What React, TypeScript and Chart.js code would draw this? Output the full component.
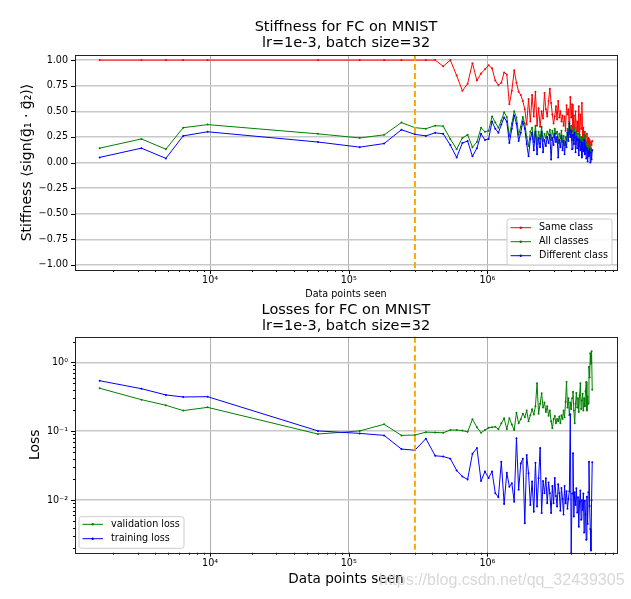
import React, { useEffect, useRef } from 'react';
import { Chart, registerables } from 'chart.js';

Chart.register(...registerables);

const FONT = "'DejaVu Sans', sans-serif";

// x values: number of data points seen
const DATA_POINTS_SEEN = [
  1600, 3200, 4800, 6400, 9600,
  60000, 120000, 180000, 240000, 300000, 360000, 420000, 480000, 540000, 600000,
  660000, 720000, 780000, 840000, 900000, 960000, 1020000, 1080000, 1140000, 1200000,
  1260000, 1320000, 1380000, 1440000, 1500000, 1560000, 1620000, 1680000, 1740000, 1800000,
  1860000, 1920000, 1980000, 2040000, 2100000, 2160000, 2220000, 2280000, 2340000, 2400000,
  2460000, 2520000, 2580000, 2640000, 2700000, 2760000, 2820000, 2880000, 2940000, 3000000,
  3060000, 3120000, 3180000, 3240000, 3300000, 3360000, 3420000, 3480000, 3540000, 3600000,
  3660000, 3720000, 3780000, 3840000, 3900000, 3960000, 4020000, 4080000, 4140000, 4200000,
  4260000, 4320000, 4380000, 4440000, 4500000, 4560000, 4620000, 4680000, 4740000, 4800000,
  4860000, 4920000, 4980000, 5040000, 5100000, 5160000, 5220000, 5280000, 5340000, 5400000,
  5460000, 5520000, 5580000, 5640000, 5700000,
];

const SAME_CLASS = [
  1, 1, 1, 1, 1,
  1, 1, 1, 1, 1, 1, 1, 0.94, 1, 0.85,
  0.70, 0.77, 0.97, 0.80, 0.87, 0.91, 0.95, 0.92, 0.80, 0.755,
  0.78, 0.88, 0.86, 0.57, 0.70, 0.90, 0.78, 0.69, 0.66, 0.60,
  0.52, 0.37, 0.62, 0.40, 0.66, 0.45, 0.69, 0.36, 0.53, 0.35,
  0.50, 0.43, 0.68, 0.52, 0.45, 0.60, 0.72, 0.58, 0.47, 0.38,
  0.45, 0.55, 0.42, 0.60, 0.44, 0.50, 0.40, 0.46, 0.36, 0.45,
  0.31, 0.56, 0.47, 0.52, 0.28, 0.64, 0.44, 0.57, 0.30, 0.46,
  0.27, 0.50, 0.25, 0.40, 0.30, 0.55, 0.22, 0.47, 0.33, 0.58,
  0.23, 0.34, 0.19, 0.30, 0.26, 0.15, 0.28, 0.20, 0.24, 0.12,
  0.22, 0.14, 0.20, 0.17, 0.21,
];

const ALL_CLASSES = [
  0.14, 0.23, 0.13, 0.34, 0.37,
  0.28, 0.24, 0.27, 0.39, 0.34, 0.33, 0.36, 0.355, 0.23, 0.13,
  0.24, 0.27, 0.15, 0.20, 0.34, 0.30, 0.31, 0.45, 0.39, 0.34,
  0.41, 0.49, 0.445, 0.26, 0.38, 0.50, 0.44, 0.27, 0.35, 0.445,
  0.38, 0.25, 0.16, 0.30, 0.34, 0.20, 0.36, 0.18, 0.30, 0.23,
  0.35, 0.21, 0.28, 0.24, 0.30, 0.27, 0.32, 0.22, 0.31, 0.25,
  0.33, 0.28, 0.30, 0.19, 0.28, 0.24, 0.31, 0.20, 0.26, 0.17,
  0.25, 0.22, 0.33, 0.27, 0.40, 0.30, 0.36, 0.22, 0.31, 0.25,
  0.34, 0.18, 0.30, 0.22, 0.28, 0.16, 0.27, 0.20, 0.25, 0.13,
  0.24, 0.18, 0.27, 0.16, 0.21, 0.12, 0.19, 0.10, 0.16, 0.12,
  0.18, 0.09, 0.14, 0.12, 0.12,
];

const DIFFERENT_CLASS = [
  0.05, 0.14, 0.04, 0.26, 0.30,
  0.20, 0.15, 0.185, 0.32, 0.275, 0.26, 0.29, 0.28, 0.17, 0.05,
  0.19, 0.21, 0.06, 0.14, 0.28, 0.22, 0.23, 0.40, 0.33, 0.29,
  0.37, 0.44, 0.40, 0.19, 0.33, 0.46, 0.38, 0.21, 0.29, 0.40,
  0.33, 0.18, 0.06, 0.23, 0.29, 0.12, 0.30, 0.08, 0.24, 0.15,
  0.30, 0.10, 0.22, 0.16, 0.25, 0.19, 0.27, 0.03, 0.24, 0.17,
  0.28, 0.20, 0.25, 0.05, 0.22, 0.15, 0.26, 0.12, 0.21, 0.08,
  0.20, 0.15, 0.29, 0.21, 0.38, 0.25, 0.31, 0.13, 0.27, 0.18,
  0.29, 0.10, 0.25, 0.14, 0.23, 0.07, 0.22, 0.12, 0.20, 0.05,
  0.19, 0.11, 0.22, 0.08, 0.16, 0.04, 0.14, 0.01, 0.11, 0.06,
  0.13, 0.00, 0.10, 0.03, 0.12,
];

const VALIDATION_LOSS = [
  0.42, 0.287, 0.238, 0.199, 0.222,
  0.091, 0.101, 0.126, 0.087, 0.088, 0.097, 0.096, 0.095, 0.104, 0.104,
  0.102, 0.098, 0.149, 0.114, 0.095, 0.104, 0.112, 0.114, 0.116, 0.107,
  0.13, 0.154, 0.107, 0.154, 0.125, 0.104, 0.186, 0.13, 0.149, 0.18,
  0.16, 0.199, 0.14, 0.17, 0.208, 0.175, 0.23, 0.496, 0.18, 0.25,
  0.355, 0.22, 0.26, 0.19, 0.23, 0.168, 0.20, 0.14, 0.11, 0.15,
  0.166, 0.13, 0.15, 0.14, 0.163, 0.13, 0.17, 0.15, 0.20, 0.16,
  0.268, 0.52, 0.22, 0.30, 0.17, 0.26, 0.21, 0.30, 0.375, 0.20,
  0.13, 0.25, 0.36, 0.22, 0.30, 0.19, 0.33, 0.496, 0.21, 0.28,
  0.35, 0.20, 0.30, 0.23, 0.38, 0.52, 0.20, 0.32, 0.25, 0.86,
  0.60, 1.35, 0.95, 1.45, 0.40,
];

const TRAINING_LOSS = [
  0.54, 0.414, 0.336, 0.314, 0.317,
  0.101, 0.093, 0.087, 0.055, 0.053, 0.078, 0.044, 0.043, 0.040, 0.027,
  0.022, 0.020, 0.047, 0.057, 0.019, 0.026, 0.021, 0.026, 0.0126, 0.011,
  0.036, 0.0088, 0.025, 0.0157, 0.0176, 0.0095, 0.079, 0.0141, 0.034, 0.040,
  0.0046, 0.045, 0.0245, 0.0085, 0.0186, 0.0068, 0.035, 0.0081, 0.0208, 0.057,
  0.0065, 0.019, 0.0126, 0.0208, 0.009, 0.018, 0.0126, 0.0065, 0.016, 0.009,
  0.021, 0.0115, 0.0081, 0.017, 0.0126, 0.007, 0.015, 0.0105, 0.0062, 0.016,
  0.009, 0.0135, 0.0075, 0.0105, 0.0135, 0.176, 0.00173, 0.0125, 0.048, 0.0058,
  0.013, 0.0085, 0.0149, 0.0066, 0.011, 0.0041, 0.0095, 0.0138, 0.0052, 0.010,
  0.0072, 0.0125, 0.0034, 0.0098, 0.0062, 0.00265, 0.0112, 0.0045, 0.013, 0.036,
  0.0082, 0.0038, 0.00185, 0.010, 0.0355,
];

const MARKER_X = 300000;

const X_MAJOR_TICKS = [1e4, 1e5, 1e6];
const X_MAJOR_LABELS = ['10\u2074', '10\u2075', '10\u2076'];
const STIFF_TICKS = [-1, -0.75, -0.5, -0.25, 0, 0.25, 0.5, 0.75, 1];
const LOSS_MAJOR_TICKS = [0.01, 0.1, 1];
const LOSS_MAJOR_LABELS = ['10\u207B\u00B2', '10\u207B\u00B9', '10\u2070'];

const X_MIN = 1062;
const X_MAX = 8.6e6;
const STIFF_MIN = -1.05;
const STIFF_MAX = 1.05;
const LOSS_MIN = 0.001726;
const LOSS_MAX = 2.353;

const RED = '#ff0000';
const GREEN = '#008000';
const BLUE = '#0000ff';

function buildLogTicks(min: number, max: number) {
  const out: { value: number; major: boolean }[] = [];
  const e0 = Math.floor(Math.log10(min));
  const e1 = Math.ceil(Math.log10(max));
  for (let e = e0; e <= e1; e++) {
    for (let m = 1; m <= 9; m++) {
      const v = parseFloat((m * Math.pow(10, e)).toPrecision(12));
      if (v >= min && v <= max) out.push({ value: v, major: m === 1 });
    }
  }
  return out;
}

function majorLabel(v: number, ticks: number[], labels: string[]) {
  for (let i = 0; i < ticks.length; i++) {
    if (Math.abs(ticks[i] - v) <= ticks[i] * 1e-9) return labels[i];
  }
  return '';
}

interface LegendCfg {
  corner: 'lr' | 'll';
  w: number;
  h: number;
  insetX: number;
  insetY: number;
  first: number;
  rowH: number;
}

function makeDecor(id: string, legend: LegendCfg, watermark?: string) {
  return {
    id,
    afterDatasetsDraw(chart: any) {
      const { ctx, chartArea: a, scales } = chart;
      const xs = scales.x;
      const ys = scales.y;
      ctx.save();
      // vertical dashed marker
      const px = xs.getPixelForValue(MARKER_X);
      ctx.strokeStyle = '#ffa500';
      ctx.lineWidth = 2;
      ctx.setLineDash([6, 3]);
      ctx.beginPath();
      ctx.moveTo(px, a.top);
      ctx.lineTo(px, a.bottom);
      ctx.stroke();
      ctx.setLineDash([]);
      // ticks
      ctx.strokeStyle = '#000';
      ctx.lineWidth = 1;
      ctx.beginPath();
      for (const t of xs.ticks) {
        const p = Math.round(xs.getPixelForValue(t.value)) + 0.5;
        const len = t.major ? 4 : 2;
        ctx.moveTo(p, a.bottom);
        ctx.lineTo(p, a.bottom + len);
      }
      for (const t of ys.ticks) {
        const p = Math.round(ys.getPixelForValue(t.value)) + 0.5;
        const len = t.major === false ? 2 : 4;
        ctx.moveTo(a.left, p);
        ctx.lineTo(a.left - len, p);
      }
      ctx.stroke();
      // frame
      ctx.strokeStyle = '#222';
      ctx.strokeRect(Math.round(a.left) + 0.5, Math.round(a.top) + 0.5, Math.round(a.right - a.left), Math.round(a.bottom - a.top));
      // legend
      const L = legend;
      const left = L.corner === 'lr' ? a.right - L.insetX - L.w : a.left + L.insetX;
      const top = a.bottom - L.insetY - L.h;
      const r = 2.5;
      ctx.beginPath();
      ctx.moveTo(left + r, top);
      ctx.lineTo(left + L.w - r, top);
      ctx.quadraticCurveTo(left + L.w, top, left + L.w, top + r);
      ctx.lineTo(left + L.w, top + L.h - r);
      ctx.quadraticCurveTo(left + L.w, top + L.h, left + L.w - r, top + L.h);
      ctx.lineTo(left + r, top + L.h);
      ctx.quadraticCurveTo(left, top + L.h, left, top + L.h - r);
      ctx.lineTo(left, top + r);
      ctx.quadraticCurveTo(left, top, left + r, top);
      ctx.closePath();
      ctx.fillStyle = 'rgba(255,255,255,0.85)';
      ctx.fill();
      ctx.strokeStyle = '#cccccc';
      ctx.lineWidth = 1;
      ctx.stroke();
      chart.data.datasets.forEach((ds: any, i: number) => {
        const y = top + L.first + i * L.rowH;
        ctx.strokeStyle = ds.borderColor;
        ctx.lineWidth = 1;
        ctx.beginPath();
        ctx.moveTo(left + 3.5, y);
        ctx.lineTo(left + 24, y);
        ctx.stroke();
        ctx.fillStyle = ds.borderColor;
        ctx.beginPath();
        ctx.arc(left + 13.75, y, 1.2, 0, Math.PI * 2);
        ctx.fill();
        ctx.fillStyle = '#000';
        ctx.font = `9.6px ${FONT}`;
        ctx.textBaseline = 'middle';
        ctx.textAlign = 'left';
        ctx.fillText(ds.label, left + 32, y);
      });
      ctx.restore();
    },
    afterDraw(chart: any) {
      if (!watermark) return;
      const { ctx } = chart;
      ctx.save();
      ctx.font = "16px 'Liberation Sans', sans-serif";
      ctx.fillStyle = 'rgba(212,212,212,0.9)';
      ctx.textBaseline = 'middle';
      ctx.textAlign = 'left';
      ctx.fillText(watermark, 379, 280.7);
      ctx.restore();
    },
  };
}

function xScale(titleText: string, titleSize: number, titlePadBottom: number, height: number) {
  return {
    type: 'logarithmic',
    min: X_MIN,
    max: X_MAX,
    afterBuildTicks: (s: any) => {
      s.ticks = buildLogTicks(X_MIN, X_MAX);
    },
    afterFit: (s: any) => {
      s.height = height;
      s.paddingLeft = 0;
      s.paddingRight = 0;
    },
    ticks: {
      autoSkip: false,
      maxRotation: 0,
      minRotation: 0,
      padding: 5,
      color: '#000',
      font: { family: FONT, size: 9.6 },
      callback: (v: number) => majorLabel(v, X_MAJOR_TICKS, X_MAJOR_LABELS),
    },
    grid: {
      drawTicks: false,
      color: (c: any) => (c.tick && c.tick.major ? '#b0b0b0' : 'rgba(0,0,0,0)'),
      lineWidth: 1,
    },
    border: { display: false },
    title: {
      display: true,
      text: titleText,
      color: '#000',
      font: { family: FONT, size: titleSize },
      padding: { top: 0, bottom: titlePadBottom },
    },
  };
}

function dataset(label: string, values: number[], color: string, order: number) {
  return {
    label,
    data: DATA_POINTS_SEEN.map((x, i) => ({ x, y: values[i] })),
    borderColor: color,
    backgroundColor: color,
    borderWidth: 1,
    pointRadius: 1,
    pointBorderWidth: 0,
    pointHoverRadius: 0,
    tension: 0,
    order,
  };
}

export default function App() {
  const topRef = useRef<HTMLCanvasElement>(null);
  const botRef = useRef<HTMLCanvasElement>(null);

  useEffect(() => {
    if (!topRef.current || !botRef.current) return;
    const top = new Chart(topRef.current, {
      type: 'line',
      data: {
        datasets: [
          dataset('Same class', SAME_CLASS, RED, 2),
          dataset('All classes', ALL_CLASSES, GREEN, 1),
          dataset('Different class', DIFFERENT_CLASS, BLUE, 0),
        ],
      },
      options: {
        responsive: false,
        animation: false,
        devicePixelRatio: 1,
        events: [],
        layout: { padding: { left: 0, right: 14, top: 0, bottom: 0 } },
        plugins: {
          legend: { display: false },
          tooltip: { enabled: false },
          title: {
            display: true,
            fullSize: false,
            text: ['Stiffness for FC on MNIST', 'lr=1e-3, batch size=32'],
            color: '#000',
            font: { family: FONT, size: 14.5, weight: 'normal', lineHeight: 1.1 },
            padding: { top: 19.3, bottom: 3.8 },
          },
        },
        scales: {
          x: xScale('Data points seen', 9.6, 0, 30) as any,
          y: {
            type: 'linear',
            min: STIFF_MIN,
            max: STIFF_MAX,
            afterBuildTicks: (s: any) => {
              s.ticks = STIFF_TICKS.map((v) => ({ value: v }));
            },
            afterFit: (s: any) => {
              s.width = 75;
              s.paddingTop = 0;
              s.paddingBottom = 0;
            },
            ticks: {
              padding: 7,
              color: '#000',
              font: { family: FONT, size: 9.6 },
              callback: (v: number) => Number(v).toFixed(2).replace('-', '\u2212'),
            },
            grid: { drawTicks: false, color: '#c8c8c8', lineWidth: 1.5 },
            border: { display: false },
            title: {
              display: true,
              text: 'Stiffness \u27E8sign(g\u20D7\u2081 \u00B7 g\u20D7\u2082)\u27E9',
              color: '#000',
              font: { family: FONT, size: 14 },
              padding: { top: 18.6, bottom: 0 },
            },
          },
        },
      },
      plugins: [makeDecor('decorTop', { corner: 'lr', w: 105, h: 46, insetX: 5, insetY: 5, first: 8.7, rowH: 14 })],
    } as any);

    const bot = new Chart(botRef.current, {
      type: 'line',
      data: {
        datasets: [
          dataset('validation loss', VALIDATION_LOSS, GREEN, 1),
          dataset('training loss', TRAINING_LOSS, BLUE, 0),
        ],
      },
      options: {
        responsive: false,
        animation: false,
        devicePixelRatio: 1,
        events: [],
        layout: { padding: { left: 0, right: 14, top: 0, bottom: 0 } },
        plugins: {
          legend: { display: false },
          tooltip: { enabled: false },
          title: {
            display: true,
            fullSize: false,
            text: ['Losses for FC on MNIST', 'lr=1e-3, batch size=32'],
            color: '#000',
            font: { family: FONT, size: 14.5, weight: 'normal', lineHeight: 1.1 },
            padding: { top: 2, bottom: 2.8 },
          },
        },
        scales: {
          x: xScale('Data points seen', 13.6, 11.5, 46.3) as any,
          y: {
            type: 'logarithmic',
            min: LOSS_MIN,
            max: LOSS_MAX,
            afterBuildTicks: (s: any) => {
              s.ticks = buildLogTicks(LOSS_MIN, LOSS_MAX);
            },
            afterFit: (s: any) => {
              s.width = 75;
              s.paddingTop = 0;
              s.paddingBottom = 0;
            },
            ticks: {
              autoSkip: false,
              padding: 7,
              color: '#000',
              font: { family: FONT, size: 9.6 },
              callback: (v: number) => majorLabel(v, LOSS_MAJOR_TICKS, LOSS_MAJOR_LABELS),
            },
            grid: {
              drawTicks: false,
              color: (c: any) => (c.tick && c.tick.major ? '#c8c8c8' : 'rgba(0,0,0,0)'),
              lineWidth: 1.5,
            },
            border: { display: false },
            title: {
              display: true,
              text: 'Loss',
              color: '#000',
              font: { family: FONT, size: 14 },
              padding: { top: 26.6, bottom: 0 },
            },
          },
        },
      },
      plugins: [
        makeDecor('decorBot', { corner: 'll', w: 105, h: 31.6, insetX: 4, insetY: 4.4, first: 7.6, rowH: 14.4 }, 'https://blog.csdn.net/qq_32439305'),
      ],
    } as any);

    return () => {
      top.destroy();
      bot.destroy();
    };
  }, []);

  return (
    <div style={{ position: 'absolute', left: 0, top: 0, width: 631, height: 599, background: '#fff' }}>
      <canvas ref={topRef} width={631} height={300} style={{ position: 'absolute', left: 0, top: 0, width: 631, height: 300, display: 'block' }} />
      <canvas ref={botRef} width={631} height={299} style={{ position: 'absolute', left: 0, top: 300, width: 631, height: 299, display: 'block' }} />
    </div>
  );
}
